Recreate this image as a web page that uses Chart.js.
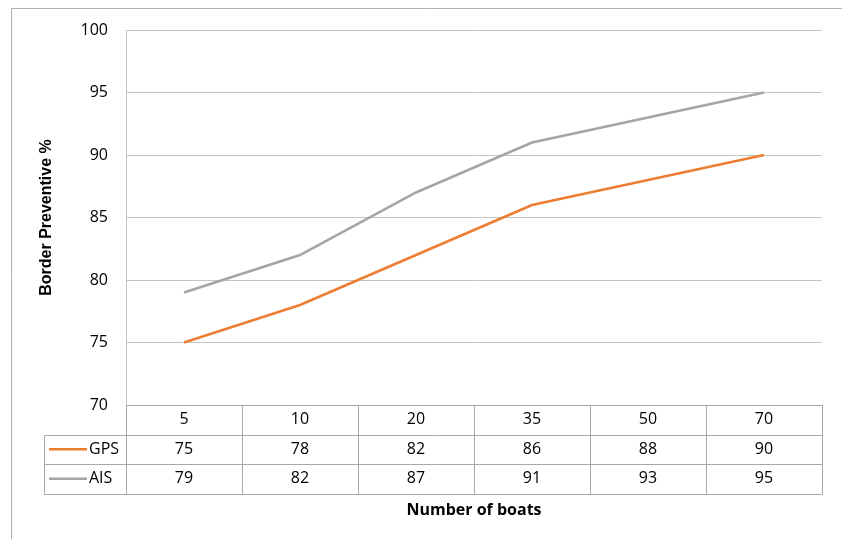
<!DOCTYPE html>
<html>
<head>
<meta charset="utf-8">
<script src="https://cdn.jsdelivr.net/npm/chart.js@4/dist/chart.umd.min.js"></script>
<style>
  html, body { margin: 0; padding: 0; background: #fff; }
  #wrap { width: 842px; height: 539px; position: relative; }
</style>
</head>
<body>
<div id="wrap"><canvas id="c" width="842" height="539"></canvas></div>
<script>
// Number of boats on the category axis
const categories = ['5', '10', '20', '35', '50', '70'];
// Border preventive percentage per tracking system
const gpsValues = [75, 78, 82, 86, 88, 90];
const aisValues = [79, 82, 87, 91, 93, 95];
// Value axis ticks
const yTicks = [70, 75, 80, 85, 90, 95, 100];

const seriesList = [
  { label: 'GPS', data: gpsValues, color: '#ED7D31' },
  { label: 'AIS', data: aisValues, color: '#A5A5A5' }
];

const GRID = '#c4c4c4';
const TABLE_LINE = '#a8a8a8';
const TEXT = '#000000';
const FONT = '"Open Sans", "Liberation Sans", sans-serif';

// Outer frame of the chart box
const framePlugin = {
  id: 'frame',
  beforeDraw(chart) {
    const ctx = chart.ctx;
    ctx.save();
    ctx.strokeStyle = '#b0b0b0';
    ctx.lineWidth = 1;
    ctx.beginPath();
    ctx.moveTo(11.5, 539);
    ctx.lineTo(11.5, 8.5);
    ctx.lineTo(842, 8.5);
    ctx.stroke();
    ctx.restore();
  }
};

// Data table under the plot area, built from the category scale
const dataTablePlugin = {
  id: 'dataTable',
  afterDraw(chart) {
    const ctx = chart.ctx;
    const area = chart.chartArea;
    const x = chart.scales.x;
    const n = categories.length;
    const colW = area.width / n;
    const rowH = 29.5;
    const top = area.bottom;
    const rows = seriesList.length + 1;
    const bottom = top + rowH * rows;
    const legendLeft = 44.5;

    ctx.save();
    ctx.strokeStyle = TABLE_LINE;
    ctx.lineWidth = 1;
    ctx.beginPath();
    // horizontal rules
    for (let r = 0; r <= rows; r++) {
      const yy = Math.round(top + rowH * r) + 0.5;
      ctx.moveTo(r === 0 ? area.left : legendLeft, yy);
      ctx.lineTo(Math.round(area.right) + 0.5, yy);
    }
    // vertical rules
    for (let i = 0; i <= n; i++) {
      const xx = Math.round(area.left + colW * i) + 0.5;
      ctx.moveTo(xx, top);
      ctx.lineTo(xx, Math.round(bottom) + 0.5);
    }
    ctx.moveTo(legendLeft, Math.round(top + rowH) + 0.5);
    ctx.lineTo(legendLeft, Math.round(bottom) + 0.5);
    ctx.stroke();

    ctx.font = '16px ' + FONT;
    ctx.fillStyle = TEXT;
    ctx.textAlign = 'center';
    ctx.textBaseline = 'middle';
    categories.forEach((c, i) => {
      ctx.fillText(c, x.getPixelForValue(i), top + rowH / 2);
    });
    seriesList.forEach((s, r) => {
      const cy = top + rowH * (r + 1) + rowH / 2;
      s.data.forEach((v, i) => {
        ctx.fillText(String(v), x.getPixelForValue(i), cy);
      });
      // legend key
      ctx.strokeStyle = s.color;
      ctx.lineWidth = 2.5;
      ctx.beginPath();
      ctx.moveTo(49, cy);
      ctx.lineTo(87, cy);
      ctx.stroke();
      ctx.textAlign = 'left';
      ctx.fillText(s.label, 89, cy);
      ctx.textAlign = 'center';
    });
    ctx.restore();
  }
};

new Chart(document.getElementById('c'), {
  type: 'line',
  data: {
    labels: categories,
    datasets: seriesList.map(s => ({
      label: s.label,
      data: s.data,
      borderColor: s.color,
      backgroundColor: s.color,
      borderWidth: 2.5,
      pointRadius: 0,
      tension: 0,
      fill: false
    }))
  },
  options: {
    responsive: false,
    animation: false,
    layout: { padding: { left: 0, top: 30, right: 20, bottom: 0 } },
    plugins: {
      legend: { display: false },
      tooltip: { enabled: false }
    },
    scales: {
      x: {
        type: 'category',
        offset: true,
        grid: { display: false },
        border: { display: false },
        ticks: { display: false },
        title: {
          display: true,
          text: 'Number of boats',
          color: TEXT,
          font: { family: FONT, size: 16, weight: 'bold' },
          padding: { top: 0, bottom: 19 }
        },
        afterFit(scale) { scale.height = 134; }
      },
      y: {
        min: 70,
        max: 100,
        afterBuildTicks(scale) { scale.ticks = yTicks.map(v => ({ value: v })); },
        grid: { color: GRID, drawTicks: false, lineWidth: 1 },
        border: { display: true, color: GRID },
        ticks: {
          color: TEXT,
          padding: 18,
          font: { family: FONT, size: 16 }
        },
        title: {
          display: true,
          text: 'Border Preventive %',
          color: TEXT,
          font: { family: 'Arimo, "Liberation Sans", Arial, sans-serif', size: 16, weight: 'bold' },
          padding: { top: 37, bottom: 0 }
        },
        afterFit(scale) { scale.width = 126; }
      }
    }
  },
  plugins: [framePlugin, dataTablePlugin]
});
</script>
</body>
</html>
